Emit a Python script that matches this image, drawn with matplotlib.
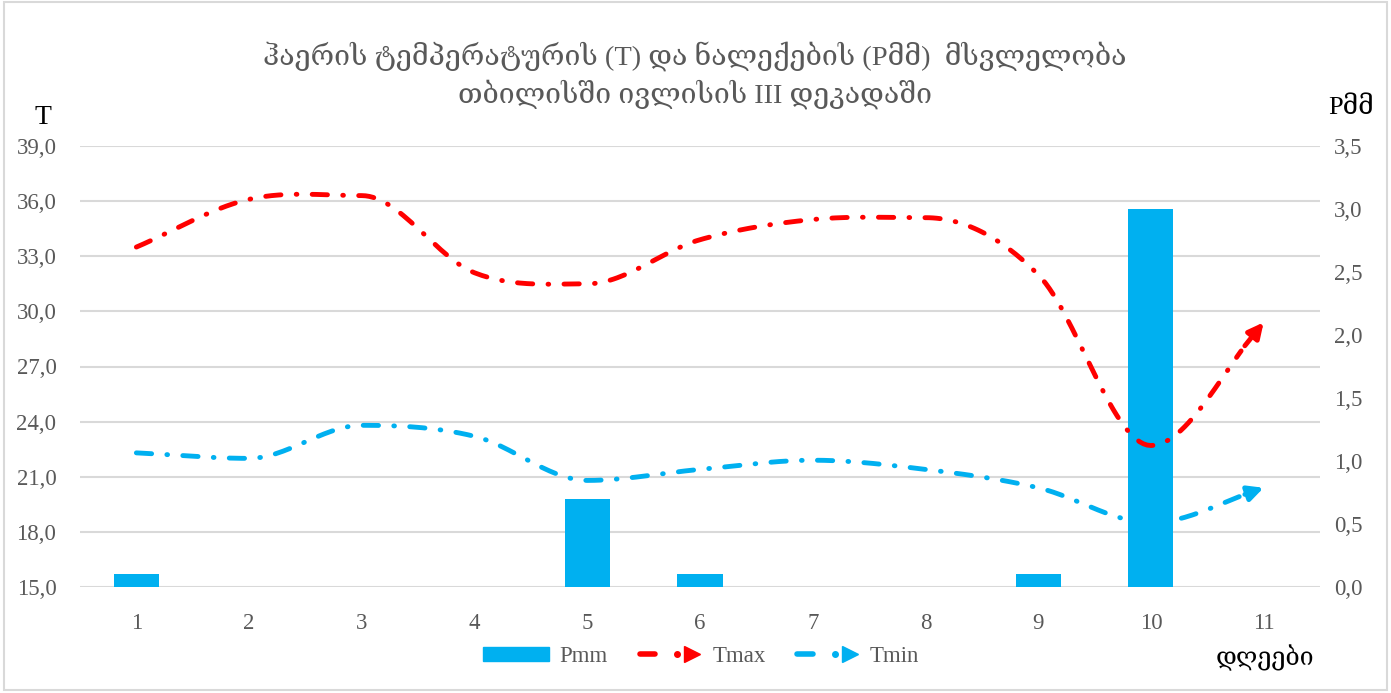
import numpy as np
import matplotlib
matplotlib.use("Agg")
import matplotlib.pyplot as plt
from matplotlib.lines import Line2D
from matplotlib.patches import Patch, Rectangle
from matplotlib.legend_handler import HandlerBase

plt.rcParams['font.family'] = ['Liberation Serif', 'DejaVu Serif', 'DejaVu Sans']
plt.rcParams['lines.scale_dashes'] = False

days = [1, 2, 3, 4, 5, 6, 7, 8, 9, 10, 11]
tmax = [33.5, 36.1, 36.3, 32.1, 31.5, 33.9, 35.0, 35.1, 32.0, 22.7, 29.4]
tmin = [22.3, 22.0, 23.8, 23.2, 20.8, 21.4, 21.9, 21.4, 20.4, 18.5, 20.4]
pmm = [0.1, 0, 0, 0, 0.7, 0.1, 0, 0, 0.1, 3.0, 0]

t_ticks = [15, 18, 21, 24, 27, 30, 33, 36, 39]
p_ticks = [0, 0.5, 1, 1.5, 2, 2.5, 3, 3.5]

title = "ჰაერის ტემპერატურის (T) და ნალექების (Pმმ)  მსვლელობა\nთბილისში ივლისის III დეკადაში"

RED = "#FF0000"
BLUE = "#00B0F0"
GRAY = "#595959"
GRID = "#D9D9D9"
DASH = (11, 11, 0.5, 11)


def smooth(x, y, n=30):
    # bezier smoothing similar to excel's smoothed line
    x = np.asarray(x, float)
    y = np.asarray(y, float)
    m = np.zeros(len(y))
    m[0] = y[1] - y[0]
    m[-1] = y[-1] - y[-2]
    for i in range(1, len(y) - 1):
        a, b = y[i] - y[i - 1], y[i + 1] - y[i]
        m[i] = 0 if a * b <= 0 else (y[i + 1] - y[i - 1]) / 2
    t = np.linspace(0, 1, n, endpoint=False)
    xs, ys = [], []
    for i in range(len(y) - 1):
        h = x[i + 1] - x[i]
        y0, y3 = y[i], y[i + 1]
        y1, y2 = y0 + m[i] * h / 3, y3 - m[i + 1] * h / 3
        xs.append(x[i] + t * h)
        ys.append((1 - t) ** 3 * y0 + 3 * (1 - t) ** 2 * t * y1 + 3 * (1 - t) * t ** 2 * y2 + t ** 3 * y3)
    xs.append([x[-1]])
    ys.append([y[-1]])
    return np.concatenate(xs), np.concatenate(ys)


class ArrowLineHandler(HandlerBase):
    def create_artists(self, legend, orig, xd, yd, width, height, fontsize, trans):
        y = height / 2 - yd
        c = orig.get_color()
        l = Line2D([-xd + 3, -xd + width * 0.30], [y, y], color=c, lw=4,
                   solid_capstyle='round')
        d = Line2D([-xd + width * 0.63], [y], marker='o', markersize=4, color=c, lw=0)
        m = Line2D([-xd + width * 0.85], [y], marker='>', markersize=12, color=c, lw=0)
        for a in (l, d, m):
            a.set_transform(trans)
        return [l, d, m]


fig = plt.figure(figsize=(13.91, 6.93), dpi=100)
ax = fig.add_axes([80 / 1391, 106 / 693, 1240 / 1391, 441 / 693])
ax2 = ax.twinx()

# bars on the secondary axis, lines on top
ax2.bar(days, pmm, width=0.4, color=BLUE, zorder=1)
ax2.set_ylim(0, 3.5)
ax2.set_yticks(p_ticks)
ax2.set_yticklabels([f"{v:.1f}".replace(".", ",") for v in p_ticks])

ax.set_zorder(ax2.get_zorder() + 1)
ax.patch.set_visible(False)

for vals, col in ((tmax, RED), (tmin, BLUE)):
    sx, sy = smooth(days, vals)
    ax.plot(sx[:-6], sy[:-6], color=col, lw=3.5, dashes=DASH,
            dash_capstyle='round', solid_capstyle='round')
    ax.annotate('', xy=(sx[-1], sy[-1]), xytext=(sx[-6], sy[-6]),
                arrowprops=dict(arrowstyle='-|>,head_length=0.9,head_width=0.45',
                                color=col, lw=3.5, shrinkA=0, shrinkB=0))

ax.set_xlim(0.5, 11.5)
ax.set_ylim(15, 39)
ax.set_xticks(days)
ax.set_yticks(t_ticks)
ax.set_yticklabels([f"{v:.1f}".replace(".", ",") for v in t_ticks])

for a in (ax, ax2):
    for s in a.spines.values():
        s.set_visible(False)
    a.tick_params(length=0, labelsize=16.5, labelcolor=GRAY)
ax.tick_params(axis='y', pad=17)
ax.tick_params(axis='x', pad=19)
ax2.tick_params(axis='y', pad=10)

for v in t_ticks:
    ax2.axhline((v - 15) / 24 * 3.5, color=GRID, lw=1.5, zorder=0)

fig.text(695 / 1391, 1 - 75 / 693, title, ha='center', va='center',
         fontsize=20.5, color=GRAY, linespacing=1.35)
fig.text(43 / 1391, 1 - 117 / 693, "T", ha='center', va='center', fontsize=20, color='black')
fig.text(1351 / 1391, 1 - 108 / 693, "Pმმ", ha='center', va='center', fontsize=19, color='black')
fig.text(1265 / 1391, 1 - 658 / 693, "დღეები", ha='center', va='center', fontsize=18, color='black')

h_p = Patch(color=BLUE, label='Pmm')
h_max = Line2D([], [], color=RED, label='Tmax')
h_min = Line2D([], [], color=BLUE, label='Tmin')
fig.legend(handles=[h_p, h_max, h_min], loc='center', bbox_to_anchor=(701 / 1391, 1 - 657 / 693),
           ncol=3, frameon=False, fontsize=16.5, labelcolor=GRAY, handlelength=2.9,
           handleheight=0.57, columnspacing=1.2, handletextpad=0.45,
           handler_map={h_max: ArrowLineHandler(), h_min: ArrowLineHandler()})

fig.patches.append(Rectangle((4 / 1391, 3 / 693), 1383 / 1391, 688 / 693, transform=fig.transFigure,
                             fill=False, edgecolor=GRID, lw=1.5))

fig.savefig("out.png", dpi=100)
